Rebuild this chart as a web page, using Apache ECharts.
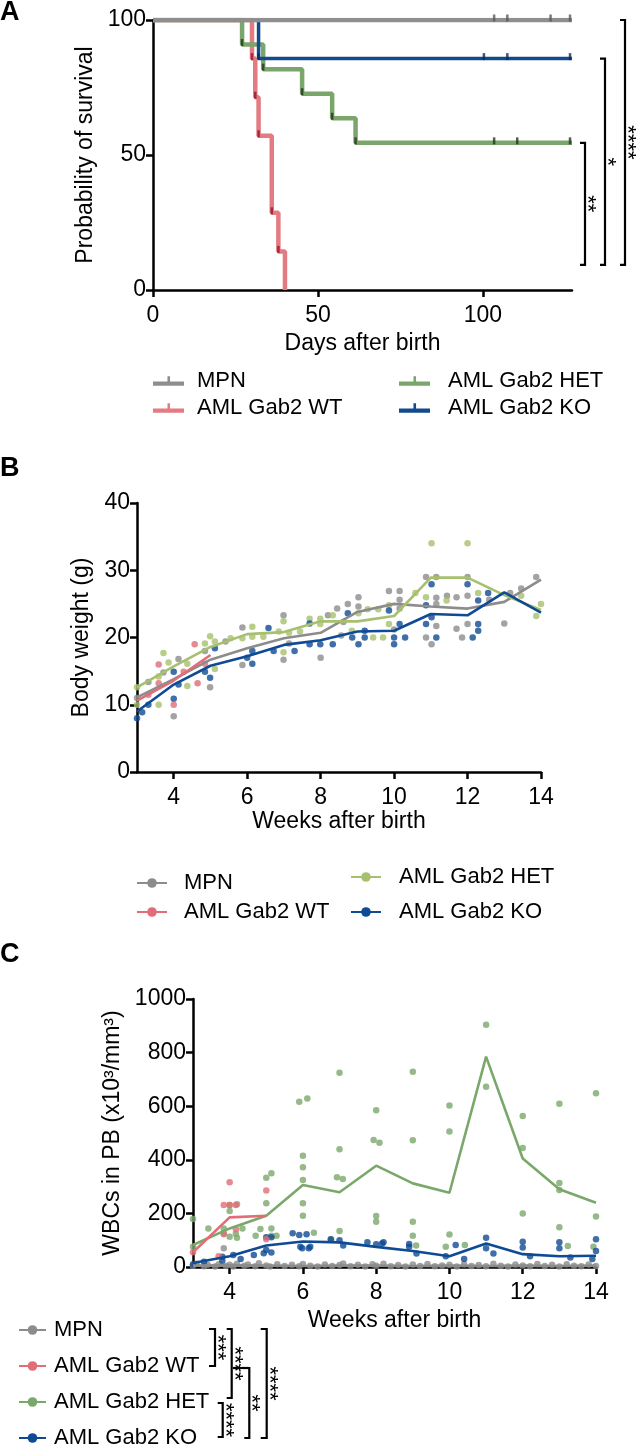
<!DOCTYPE html>
<html><head><meta charset="utf-8">
<script src="https://cdn.jsdelivr.net/npm/echarts@6/dist/echarts.min.js"></script>
<style>html,body{margin:0;padding:0;background:#fff}#c{width:636px;height:1447px}</style>
</head><body><div id="c"></div>
<script>
const FONT = '"Liberation Sans", Arial, Helvetica, sans-serif';
const groups = ['MPN', 'AML Gab2 WT', 'AML Gab2 HET', 'AML Gab2 KO'];

// ---------- Panel A: survival (days, %) ----------
const survMax = 127;
const survMPN = [[0,100],[127,100]];
const survWT  = [[0,100],[30,85.7],[31,71.4],[32,57.1],[36,28.6],[38,14.3],[40,0]];
const survHET = [[0,100],[27,90.9],[33.4,81.8],[45.2,72.7],[54.3,63.6],[61.4,54.5],[127,54.5]];
const survKO  = [[0,100],[32,85.7],[127,85.7]];
const censorMPN = [[103.4,100],[107.4,100],[120.5,100],[126.4,100]];
const censorHET = [[103.4,54.5],[110.4,54.5],[126.4,54.5]];
const censorKO  = [[100.3,85.7],[107.4,85.7],[126.4,85.7]];
const daysTicks = [0, 50, 100];

// ---------- Panel B: body weight (g) ----------
const weeks = [3,4,5,6,7,8,9,10,11,12,13,14];
const weeksWT = [3,4,5];
const weeksTicks = [4,6,8,10,12,14];
const bwMPN = [11.1,13.8,16.7,18.4,19.9,20.7,23.8,25.0,24.6,24.3,25.3,28.6];
const bwWT  = [10.6,13.6,17.4];
const bwHET = [12.6,15.7,18.6,20.5,20.8,22.4,22.4,23.2,28.9,28.9,26.3,24.1];
const bwKO  = [9.0,13.0,15.8,17.2,18.9,19.6,20.9,21.0,23.5,23.3,26.7,23.7];
const bwDotsMPN = [[3,11],[3.31,13.4],[3.72,14.8],[4,8.3],[4.13,16.8],[4.85,18],[4.99,12.6],[5.41,19.4],[5.87,21.5],[5.87,15.9],[6.99,23.3],[6.99,16.7],[7.14,19.1],[8,17],[8.2,23.3],[8.45,24.3],[8.62,22.3],[8.56,20.3],[8.74,25],[9.03,26],[9.03,24.6],[9.86,26.9],[10.15,26.9],[10.15,25.6],[10.15,24.3],[10,21.2],[10.87,29],[11.15,29],[11.15,25.9],[11.15,25],[11.15,21.7],[10.87,20],[11.02,19],[11.44,26.2],[11.7,26],[11.7,21.3],[12,29],[12,26.2],[12,22],[11.85,20],[12.59,25.6],[13.16,26.6],[13,22.1],[13.46,27.3],[13.87,29]];
const bwDotsWT = [[3.31,11.5],[3.59,16],[3.59,13.2],[4,10],[4.27,14.9],[4.57,19],[4.65,13.2],[4.85,16.1]];
const bwDotsHET = [[3,12.6],[3,10],[3.59,14.2],[3.59,10],[3.72,17.7],[3.86,16.3],[4.37,16.1],[4.37,12.8],[4.85,19.1],[4.99,20.2],[5.12,19.4],[5.12,15.3],[5.55,19.9],[5.87,19.9],[6.14,21.6],[6.14,20.1],[6.44,20.1],[6.86,20.9],[6.99,22.4],[6.99,17.8],[7.14,20.7],[7.44,20.9],[7.7,22.8],[7.99,22.8],[7.99,22],[8.33,23.3],[8.85,21],[9.03,23.6],[9.28,24.2],[9.57,24.2],[9.86,24.8],[9.86,22],[9.43,20],[9.7,20],[10.58,26.6],[10.87,26],[11.02,34],[11.43,25.5],[12,34],[12.29,26.6],[13.46,26.2],[13.87,23.2],[14,25]];
const bwDotsKO = [[3,8],[3.14,8.9],[3.31,10],[4,14.9],[4,10.9],[4.13,13],[4.85,14.9],[4.99,14],[5.12,18.4],[6,17],[6.14,18],[6.14,16.1],[6.58,21.4],[6.72,18],[7.29,18],[7.7,22.1],[7.7,19],[7.99,19],[8.33,19],[8.74,23.6],[8.86,20],[9.03,19],[9.2,21],[9.2,20],[9.86,24],[10,20],[10,19],[10.15,22],[10.3,20],[10.87,24.8],[10.87,22],[11.02,27.9],[11.02,23],[11.15,20],[12,27.9],[12.14,20],[12.29,25.5],[12.29,22],[12.29,21],[12.56,26.6]];

// ---------- Panel C: WBC counts (x10^3/mm^3) ----------
const wbcMPN = [5,6,5,4,5,5,4,5,4,5,4,5];
const wbcWT  = [55,185,191];
const wbcHET = [82,144,191,306,279,378,312,277,785,405,290,240];
const wbcKO  = [15,40,80,95,92,75,60,40,88,48,40,42];
const wbcDotsMPN = [[3,5],[3.1,12],[3.3,3],[3.4,8],[3.6,2],[3.7,10],[3.84,70],[3.9,4],[4,8],[4.1,2],[4.2,12],[4.4,5],[4.5,9],[4.7,3],[4.8,14],[5,6],[5.1,2],[5.3,10],[5.5,4],[5.7,8],[5.9,3],[6,11],[6.2,5],[6.4,2],[6.6,9],[6.8,4],[7,7],[7.1,13],[7.3,3],[7.5,8],[7.7,2],[7.9,10],[8,5],[8.2,12],[8.4,3],[8.6,7],[8.8,2],[9,9],[9.2,4],[9.4,11],[9.6,3],[9.8,6],[10,8],[10.2,2],[10.4,10],[10.6,4],[10.8,7],[11,3],[11.2,12],[11.4,5],[11.6,2],[11.8,9],[12,6],[12.2,3],[12.4,11],[12.6,4],[12.8,8],[13,2],[13.2,10],[13.4,5],[13.6,3],[13.8,9],[14,4]];
const wbcDotsWT = [[3,55],[3.7,40],[3.84,231],[3.84,122],[4,231],[4,316],[4.17,231],[4.17,141],[5,285],[5,104]];
const wbcDotsHET = [[3,179],[3,76],[3.42,144],[3.84,144],[3.84,126],[4,231],[4,209],[4,113],[4.17,124],[4.2,234],[4.2,109],[4.35,144],[4.71,117],[4.84,142],[5,333],[5,238],[5.14,350],[5.14,144],[5.14,117],[5.28,117],[5.9,617],[6.12,629],[6,415],[6,372],[6,325],[6,238],[6,191],[6.3,128],[6.77,103],[6.93,335],[7.09,328],[7,439],[7,725],[7,134],[7.93,474],[8.09,464],[8,585],[8,190],[8,169],[9,729],[9,473],[9,169],[9,117],[9.09,80],[9.9,76],[10,603],[10,506],[10,121],[10.42,82],[11,904],[11,673],[12,563],[12,444],[12,200],[13,609],[13,313],[13,287],[13,148],[13.23,78],[14,648],[14,188],[13.93,76]];
const wbcDotsKO = [[3,10],[3.3,20],[3.8,38],[3.8,23],[4.1,45],[4.3,30],[4.66,45],[4.93,51],[5,63],[5,111],[5.14,111],[5.14,54],[5.72,126],[5.9,119],[6.1,122],[5.93,76],[6.2,76],[5.98,70],[6.16,70],[6.76,104],[7,100],[7.1,80],[7.76,92],[8,85],[8.2,92],[8.16,88],[8.9,86],[8.9,76],[9.1,50],[9.9,40],[10.17,82],[10.4,30],[11,109],[11,70],[11.2,50],[12,94],[12,73],[12.2,40],[13,92],[13,70],[13.3,35],[14,104],[14,60],[13.9,30]];

// ---------- styles ----------
const colA = ['#8e8e8e', '#e27b82', '#7aa56b', '#134a8e'];
const darkA = ['#5a5a5a', '#9b1428', '#26361f', '#0a2c5a'];
const colB = ['#8c8c8c', '#e06d77', '#a7c06e', '#0f4a94'];
const colC = ['#8c8c8c', '#e36d76', '#7aa86b', '#0f4a94'];

function axis(o) {
  return Object.assign({
    type: 'value',
    axisLine: { show: true, onZero: false, lineStyle: { color: '#000', width: 2.5 } },
    axisTick: { show: true, length: 7, lineStyle: { color: '#000', width: 2.5 } },
    splitLine: { show: false },
    nameLocation: 'middle',
    nameTextStyle: { color: '#000', fontSize: 23, fontFamily: FONT }
  }, o);
}
const yLab = { color: '#000', fontSize: 23, fontFamily: FONT, margin: 7, formatter: v => String(v) };
const xLab = { color: '#000', fontSize: 23, fontFamily: FONT, margin: 14 };

const series = [];
// Panel A
const surv = [survMPN, survWT, survHET, survKO];
const censors = [censorMPN, [], censorHET, censorKO];
[1, 2, 3, 0].forEach(g => {
  series.push({ type: 'line', name: 'A|' + groups[g], xAxisIndex: 0, yAxisIndex: 0, step: 'end',
    data: surv[g], symbol: 'none', lineStyle: { color: colA[g], width: g === 3 ? 3.5 : 4.5 },
    itemStyle: { color: colA[g] }, z: g === 0 ? 5 : 3 });
  const events = surv[g].filter((p, i) => i > 0 && p[0] < survMax && p[1] > 0);
  series.push({ type: 'scatter', name: 'A|' + groups[g], xAxisIndex: 0, yAxisIndex: 0,
    data: events.concat(censors[g]), symbol: 'rect', symbolSize: [2.5, 7], symbolOffset: [0, -2],
    itemStyle: { color: darkA[g] }, z: 6 });
});
// Panel B & C
function addPanel(idx, prefix, cols, lines, dots) {
  [0, 2, 3, 1].forEach(g => {
    const xs = g === 1 ? weeksWT : weeks;
    series.push({ type: 'line', name: prefix + groups[g], xAxisIndex: idx, yAxisIndex: idx,
      data: xs.map((w, i) => [w, lines[g][i]]), symbol: 'circle', symbolSize: 7, showSymbol: false,
      lineStyle: { color: cols[g], width: 2.6 }, itemStyle: { color: cols[g] }, z: 3 });
    series.push({ type: 'scatter', name: prefix + groups[g], xAxisIndex: idx, yAxisIndex: idx,
      data: dots[g], symbol: 'circle', symbolSize: 6.5, itemStyle: { color: cols[g] }, z: 2 });
  });
}
addPanel(1, 'B|', colB, [bwMPN, bwWT, bwHET, bwKO], [bwDotsMPN, bwDotsWT, bwDotsHET, bwDotsKO]);
addPanel(2, 'C|', colC, [wbcMPN, wbcWT, wbcHET, wbcKO], [wbcDotsMPN, wbcDotsWT, wbcDotsHET, wbcDotsKO]);

function legend(left, top, gap, items, w, pad) {
  return { left, top, height: 170, padding: 0, orient: 'vertical', itemGap: gap, itemWidth: w, itemHeight: 12,
    selectedMode: false, data: items,
    formatter: n => '{t|' + n.split('|')[1] + '}',
    textStyle: { color: '#000', fontSize: 22, fontFamily: FONT,
      rich: { t: { color: '#000', fontSize: 22, fontFamily: FONT, padding: [0, 0, 0, pad] } } } };
}
const barTick = 'path://M0,5h30v4h-30z M14,0h2.5v6h-2.5z';
const legA = (g) => ({ name: 'A|' + groups[g], icon: barTick });

const option = {
  animation: false,
  textStyle: { fontFamily: FONT },
  grid: [
    { left: 153, top: 20, width: 419, height: 270 },
    { left: 137, top: 503, width: 404, height: 269 },
    { left: 193, top: 999, width: 403, height: 268 }
  ],
  xAxis: [
    axis({ gridIndex: 0, min: 0, max: survMax, name: 'Days after birth', nameGap: 42,
      axisLabel: Object.assign({ customValues: daysTicks }, xLab), axisTick: { show: true, length: 7, customValues: daysTicks, lineStyle: { color: '#000', width: 2.5 } } }),
    axis({ gridIndex: 1, min: 3, max: 14, name: 'Weeks after birth', nameGap: 38,
      axisLabel: Object.assign({ customValues: weeksTicks }, xLab), axisTick: { show: true, length: 7, customValues: weeksTicks, lineStyle: { color: '#000', width: 2.5 } } }),
    axis({ gridIndex: 2, min: 3, max: 14, name: 'Weeks after birth', nameGap: 42,
      axisLabel: Object.assign({ customValues: weeksTicks }, xLab), axisTick: { show: true, length: 7, customValues: weeksTicks, lineStyle: { color: '#000', width: 2.5 } } })
  ],
  yAxis: [
    axis({ gridIndex: 0, min: 0, max: 100, interval: 50, name: 'Probability of survival', nameGap: 54, axisLabel: yLab }),
    axis({ gridIndex: 1, min: 0, max: 40, interval: 10, name: 'Body weight (g)', nameGap: 33, axisLabel: yLab }),
    axis({ gridIndex: 2, min: 0, max: 1000, interval: 200, name: 'WBCs in PB (x10³/mm³)', nameGap: 64, axisLabel: yLab })
  ],
  legend: [
    legend(153, 370, 5, [legA(0), legA(1)], 31, 8),
    legend(399, 370, 5, [legA(2), legA(3)], 31, 13),
    legend(136, 872, 7, ['B|MPN', 'B|AML Gab2 WT'], 30, 12),
    legend(350, 866, 13, ['B|AML Gab2 HET', 'B|AML Gab2 KO'], 30, 13),
    legend(18, 1319, 14, ['C|MPN', 'C|AML Gab2 WT', 'C|AML Gab2 HET', 'C|AML Gab2 KO'], 27, 3)
  ],
  series
};

const chart = echarts.init(document.getElementById('c'));
chart.setOption(option);

// significance brackets and panel letters
const g = [];
function bracket(x, y1, y2, serif, label) {
  g.push({ type: 'polyline', shape: { points: [[x - serif, y1], [x, y1], [x, y2], [x - serif, y2]] },
    style: { stroke: '#000', lineWidth: 2.2, fill: null } });
  g.push({ type: 'text', x: x + 2, y: (y1 + y2) / 2, rotation: -Math.PI / 2,
    style: { text: label, fontSize: 22, fontFamily: FONT, fill: '#000', align: 'center', verticalAlign: 'middle' } });
}
const aBrackets = [
  { top: 100, bottom: 9.3, dx: 53, label: '****' },
  { top: 85.7, bottom: 9.3, dx: 33, label: '*' },
  { top: 54.5, bottom: 9.3, dx: 13, label: '**' }
];
aBrackets.forEach(b => {
  const p1 = chart.convertToPixel({ gridIndex: 0 }, [survMax, b.top]);
  const p2 = chart.convertToPixel({ gridIndex: 0 }, [survMax, b.bottom]);
  bracket(p1[0] + b.dx, p1[1], p2[1], 5, b.label);
});
// panel C legend comparisons
bracket(215, 1329, 1366, 6, '***');
bracket(231.7, 1329, 1398, 5, '****');
bracket(249.3, 1368, 1438, 5, '**');
g.push({ type: 'line', shape: { x1: 233, y1: 1368, x2: 249.3, y2: 1368 }, style: { stroke: '#000', lineWidth: 2.2 } });
bracket(222.7, 1403, 1437, 5, '****');
bracket(266.7, 1329, 1438, 6, '****');
// panel letters
[['A', 13], ['B', 469], ['C', 955]].forEach(([t, y]) => g.push({ type: 'text', x: 0, y,
  style: { text: t, fontSize: 27, fontWeight: 'bold', fontFamily: FONT, fill: '#000', align: 'left', verticalAlign: 'middle' } }));
chart.setOption({ graphic: g });
</script></body></html>
